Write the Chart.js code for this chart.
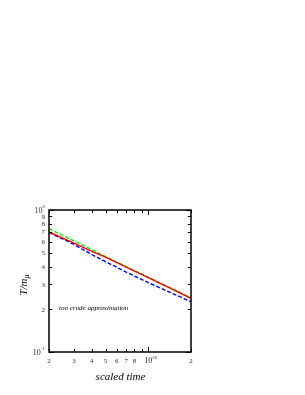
<!DOCTYPE html>
<html>
<head>
<meta charset="utf-8">
<script src="https://cdn.jsdelivr.net/npm/chart.js@4/dist/chart.umd.min.js"></script>
<style>
  html, body { margin: 0; padding: 0; background: #fff; }
  #wrap { width: 305px; height: 395px; }
</style>
</head>
<body>
<div id="wrap"><canvas id="tChart"></canvas></div>
<script>
// Data
const times = [2e19, 3e19, 4e19, 5e19, 7e19, 1e20, 1.4e20, 2e20];
const redVals = [0.70, 0.584, 0.512, 0.465, 0.396, 0.334, 0.284, 0.239];
const greenVals = [0.738, 0.606, 0.527, 0.470, 0.399, 0.337, 0.286, 0.241];
const blueVals = [0.695, 0.572, 0.486, 0.433, 0.365, 0.308, 0.265, 0.226];

const xTicks = [2e19, 3e19, 4e19, 5e19, 6e19, 7e19, 8e19, 9e19, 1e20, 2e20];
const xTickLabels = ["2", "3", "4", "5", "6", "7", "8", "", "10^20", "2"];
const yTicks = [0.1, 0.2, 0.3, 0.4, 0.5, 0.6, 0.7, 0.8, 0.9, 1];
const yTickLabels = ["10^-1", "2", "3", "4", "5", "6", "7", "8", "9", "10^0"];

const pts = (vals) => times.map((t, i) => ({ x: t, y: vals[i] }));

// label with optional "base^exp" superscript
function drawPow(ctx, text, x, y, align) {
  const parts = text.split("^");
  const big = parts[1] ? "8px" : "7px";
  ctx.font = big + " 'Liberation Serif', serif";
  const bw = ctx.measureText(parts[0]).width;
  let ew = 0;
  if (parts[1]) {
    ctx.font = "5px 'Liberation Serif', serif";
    ew = ctx.measureText(parts[1]).width;
  }
  let x0 = x;
  if (align === "right") x0 = x - bw - ew;
  else if (align === "center") x0 = x - bw / 2;
  ctx.textAlign = "left";
  ctx.font = big + " 'Liberation Serif', serif";
  ctx.fillText(parts[0], x0, y);
  if (parts[1]) {
    ctx.font = "5px 'Liberation Serif', serif";
    ctx.fillText(parts[1], x0 + bw, y - 4.5);
  }
}

const framePlugin = {
  id: "frame",
  afterDraw(chart) {
    const { ctx, chartArea: a, scales: { x, y } } = chart;
    ctx.save();
    ctx.strokeStyle = "#000";
    ctx.lineWidth = 1.5;
    ctx.strokeRect(a.left, a.top, a.right - a.left, a.bottom - a.top);

    // inward ticks on all sides
    ctx.lineWidth = 1;
    ctx.beginPath();
    xTicks.forEach((v) => {
      const px = Math.round(x.getPixelForValue(v)) + 0.5;
      const len = v === 1e20 ? 5 : 3;
      ctx.moveTo(px, a.bottom); ctx.lineTo(px, a.bottom - len);
      ctx.moveTo(px, a.top); ctx.lineTo(px, a.top + len);
    });
    yTicks.forEach((v) => {
      const py = Math.round(y.getPixelForValue(v)) + 0.5;
      const len = (v === 0.1 || v === 1) ? 5 : 3;
      ctx.moveTo(a.left, py); ctx.lineTo(a.left + len, py);
      ctx.moveTo(a.right, py); ctx.lineTo(a.right - len, py);
    });
    ctx.stroke();

    // tick labels
    ctx.fillStyle = "#333";
    ctx.textBaseline = "alphabetic";
    xTicks.forEach((v, i) => {
      if (!xTickLabels[i]) return;
      drawPow(ctx, xTickLabels[i], x.getPixelForValue(v), a.bottom + 11, "center");
    });
    yTicks.forEach((v, i) => {
      drawPow(ctx, yTickLabels[i], a.left - 4, y.getPixelForValue(v) + 2.5, "right");
    });

    // annotation
    ctx.fillStyle = "#000";
    ctx.font = "italic 7px 'Liberation Serif', serif";
    ctx.textAlign = "left";
    ctx.fillText("too crude approximation", 59, 310);

    // axis titles
    ctx.font = "italic 11px 'Liberation Serif', serif";
    ctx.textAlign = "center";
    ctx.fillText("scaled time", (a.left + a.right) / 2 + 0.5, 380);

    ctx.translate(27, 285);
    ctx.rotate(-Math.PI / 2);
    ctx.textAlign = "left";
    const main = "T/m";
    const mw = ctx.measureText(main).width;
    ctx.font = "italic 8px 'Liberation Serif', serif";
    const sw = ctx.measureText("\u03bc").width;
    ctx.font = "italic 11px 'Liberation Serif', serif";
    ctx.fillText(main, -(mw + sw) / 2, 0);
    ctx.font = "italic 8px 'Liberation Serif', serif";
    ctx.fillText("\u03bc", -(mw + sw) / 2 + mw, 2);
    ctx.restore();
  }
};

const tData = {
  datasets: [
    {
      label: "red",
      data: pts(redVals),
      borderColor: "#ff0000",
      borderWidth: 1.4,
      pointRadius: 0,
      tension: 0,
    },
    {
      label: "green",
      data: pts(greenVals),
      borderColor: "#00ee00",
      borderWidth: 1.4,
      borderDash: [4, 2],
      pointRadius: 0,
      tension: 0,
    },
    {
      label: "blue",
      data: pts(blueVals),
      borderColor: "#0000ff",
      borderWidth: 1.4,
      borderDash: [4, 2],
      pointRadius: 0,
      tension: 0,
    },
  ],
};

const tConfig = {
  type: "line",
  data: tData,
  options: {
    responsive: true,
    maintainAspectRatio: false,
    animation: false,
    layout: { padding: { left: 49, right: 114, top: 210, bottom: 43 } },
    plugins: { legend: { display: false }, tooltip: { enabled: false } },
    scales: {
      x: { type: "logarithmic", min: 2e19, max: 2e20, display: false },
      y: { type: "logarithmic", min: 0.1, max: 1, display: false },
    },
  },
  plugins: [framePlugin],
};

const tChart = new Chart(document.getElementById("tChart"), tConfig);
</script>
</body>
</html>
